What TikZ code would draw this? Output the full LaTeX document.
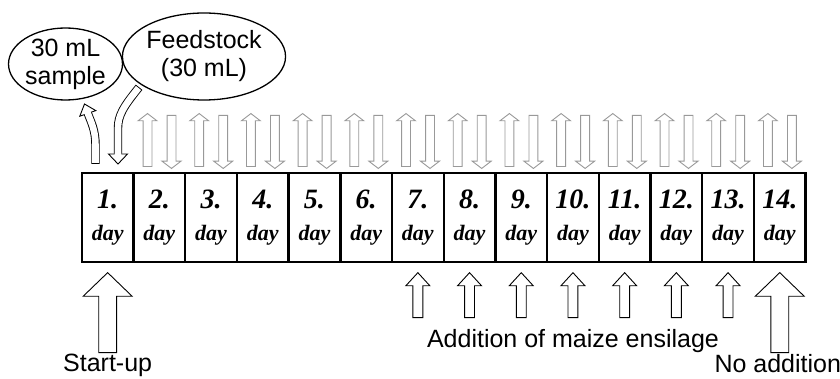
\documentclass[tikz,border=0pt]{standalone}
\usepackage{fontspec}
\setmainfont{Liberation Sans}
\newfontfamily\dayfont{Liberation Serif}
\usetikzlibrary{positioning,shapes.arrows,shapes.geometric}

\tikzset{
  daybox/.style={draw, line width=2.4pt, outer sep=0pt, inner sep=0pt,
    minimum width=51.7pt, minimum height=89pt, align=center,
    font=\dayfont\bfseries\itshape\fontsize{22}{32}\selectfont},
  bubble/.style={draw, ellipse, line width=1.3pt, inner sep=0pt, align=center,
    font=\fontsize{25}{28}\selectfont},
  lbl/.style={inner sep=0pt, font=\fontsize{25}{28}\selectfont},
  feedarrow/.style={single arrow, draw=gray!80, fill=white, line width=0.9pt, rotate=90,
    inner xsep=0pt, inner ysep=4pt, minimum width=0pt, minimum height=53pt,
    single arrow head extend=5pt, single arrow tip angle=105, anchor=tail},
  addarrow/.style={single arrow, draw, fill=white, line width=0.9pt, rotate=90,
    inner xsep=0pt, inner ysep=4.5pt, minimum width=0pt, minimum height=45pt,
    single arrow head extend=7pt, single arrow tip angle=85, anchor=tip},
  bigarrow/.style={addarrow, inner ysep=8.5pt, minimum height=80pt,
    single arrow head extend=15.5pt, single arrow tip angle=92},
  outshaft/.style={line width=8.4pt, shorten <=-0.9pt},
  inshaft/.style={line width=6.6pt, white, shorten >=-1.5pt},
  tiphead/.style={draw, fill=white, line width=0.9pt}
}

\begin{document}
\begin{tikzpicture}[x=1pt,y=-1pt]
\useasboundingbox (0,0) rectangle (840,379);

% the fourteen days
\node[daybox] (d1) at (107.65,217.5) {{\fontsize{28}{32}\selectfont 1.}\\day};
\foreach \i [remember=\i as \j (initially 1)] in {2,...,14}
  \node[daybox, right=0pt of d\j] (d\i) {{\fontsize{28}{32}\selectfont \i.}\\day};

% daily sampling and feeding
\foreach \i in {2,...,14} {
  \node[feedarrow] (u\i) at ([xshift=14pt,yshift=6pt]d\i.north west) {};
  \node[feedarrow, rotate=180] (f\i) at ([xshift=38pt,yshift=58pt]d\i.north west) {};
}

% first day
\node[bubble, minimum width=113pt, minimum height=72pt] (smp) at (65.5,64) {30 mL\\sample};
\node[bubble, minimum width=150pt, minimum height=87pt] (fs) at (204,56.5) {Feedstock\\(30 mL)};
\coordinate (sb) at ([xshift=13.7pt,yshift=10pt]d1.north west);
\coordinate (sh) at (87.8,113.4);
\coordinate (fb) at (138.5,88);
\coordinate (fh) at (118,154);
\draw[outshaft] (sb) -- ++(0,-18) .. controls +(0,-15) and (91,122) .. (sh);
\draw[outshaft] (fb) .. controls (124,106) and (118,115) .. (118,128) -- (fh);
\draw[tiphead] (95.8,110.6) -- (84.5,104) -- (79.8,116.2) -- cycle;
\draw[tiphead] (108.5,154) -- (118,164) -- (127.5,154) -- cycle;
\draw[inshaft] (sb) -- ++(0,-18) .. controls +(0,-15) and (91,122) .. (sh);
\draw[inshaft] (fb) .. controls (124,106) and (118,115) .. (118,128) -- (fh);

% start-up and maize additions
\node[bigarrow] (s1) at ([yshift=-10pt]d1.south) {};
\foreach \i in {7,...,13}
  \node[addarrow] (a\i) at ([yshift=-10pt]d\i.south) {};
\node[bigarrow] (s14) at ([yshift=-10pt]d14.south) {};

\node[lbl, below=1pt of s1.tail] (start) {Start-up};
\node[lbl, below=11pt of a10.tail] (maize) {Addition of maize ensilage};
\node[lbl, below=1pt of s14.tail, xshift=-2pt] (noadd) {No addition};
\end{tikzpicture}
\end{document}
